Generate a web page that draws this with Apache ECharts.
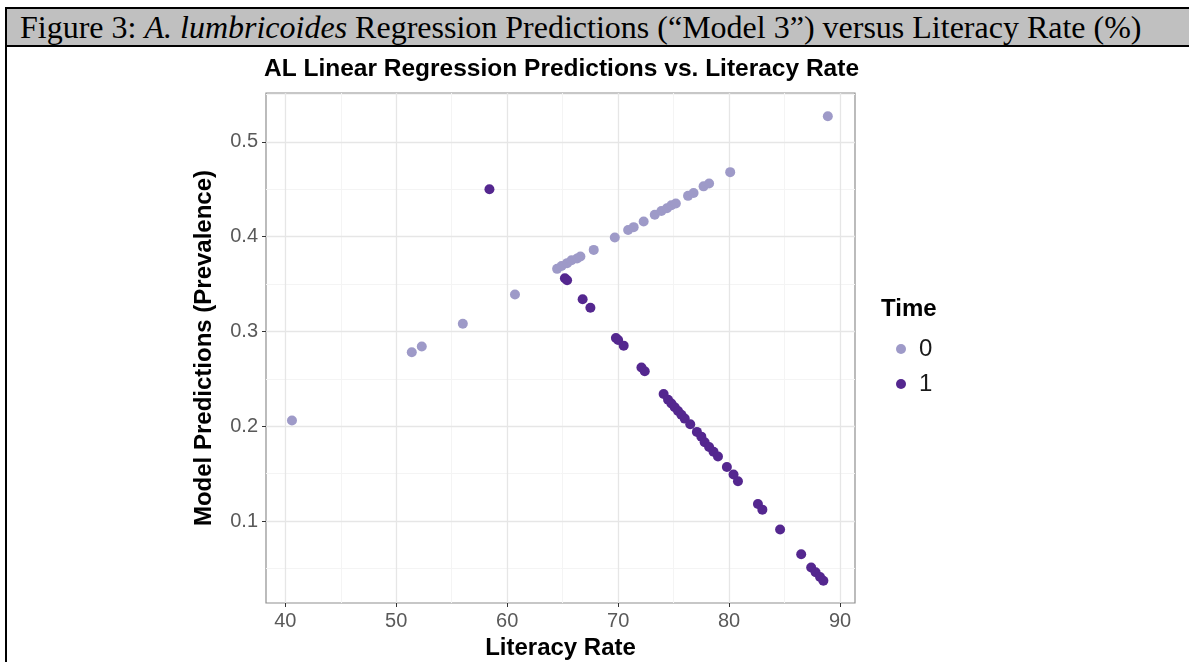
<!DOCTYPE html>
<html>
<head>
<meta charset="utf-8">
<title>AL Linear Regression Predictions vs. Literacy Rate</title>
<script src="https://cdn.jsdelivr.net/npm/echarts@6/dist/echarts.min.js"></script>
<style>
  html, body {
    margin: 0;
    padding: 0;
    background: #fff;
    overflow: hidden;
  }
  .fig-frame {
    position: absolute;
    left: 5px;
    top: 7px;
    width: 1200px;
    height: 700px;
    border-left: 2px solid #000;
    border-top: 2px solid #000;
  }
  .fig-caption {
    position: absolute;
    left: 5px;
    top: 7px;
    width: 1200px;
    height: 36px;
    background: #c0c0c0;
    border-top: 2px solid #000;
    border-left: 2px solid #000;
    border-bottom: 2px solid #000;
    font-family: "Liberation Serif", "DejaVu Serif", serif;
    font-size: 32px;
    line-height: 36px;
    color: #000;
    padding-left: 13px;
    white-space: nowrap;
    box-sizing: content-box;
  }
  #chart {
    position: absolute;
    left: 0;
    top: 0;
    width: 1189px;
    height: 662px;
  }
</style>
</head>
<body>
<div id="chart"></div>
<div class="fig-frame"></div>
<div class="fig-caption">Figure 3: <i>A. lumbricoides</i> Regression Predictions (“Model 3”) versus Literacy Rate (%)</div>
<script>
  // Time = 0
  var time0X = [40.6, 51.4, 52.3, 56.0, 60.7, 64.5, 64.9, 65.4, 65.8, 66.3, 66.6, 67.8, 69.7, 70.9, 71.4,
    72.3, 73.3, 73.9, 74.4, 74.8, 75.2, 76.3, 76.8, 77.7, 78.2, 80.1, 88.9];
  var time0Y = [0.206, 0.278, 0.284, 0.308, 0.339, 0.366, 0.369, 0.372, 0.375, 0.377, 0.379, 0.386, 0.399, 0.407, 0.410,
    0.416, 0.423, 0.427, 0.430, 0.433, 0.435, 0.443, 0.446, 0.453, 0.456, 0.468, 0.527];
  // Time = 1
  var time1X = [58.4, 65.2, 65.4, 66.8, 67.5, 69.8, 70.0, 70.5, 72.1, 72.4, 74.1, 74.5, 74.8, 75.1, 75.4,
    75.7, 76.0, 76.5, 77.1, 77.5, 77.8, 78.2, 78.6, 79.0, 79.8, 80.4, 80.8, 82.6, 83.0, 84.6,
    86.5, 87.4, 87.8, 88.2, 88.5];
  var time1Y = [0.450, 0.356, 0.354, 0.334, 0.325, 0.293, 0.291, 0.285, 0.262, 0.258, 0.234, 0.228, 0.224, 0.220, 0.216,
    0.212, 0.208, 0.202, 0.194, 0.189, 0.183, 0.178, 0.173, 0.168, 0.157, 0.149, 0.142, 0.118, 0.112, 0.091,
    0.065, 0.051, 0.046, 0.041, 0.037];

  var timeNames = ['0', '1'];
  var xMajor = [40, 50, 60, 70, 80, 90];
  var xMinor = [45, 55, 65, 75, 85];
  var yMajor = [0.1, 0.2, 0.3, 0.4, 0.5];
  var yMinor = [0.05, 0.15, 0.25, 0.35, 0.45, 0.55];
  var xRange = [38.26, 91.35];
  var yRange = [0.0135, 0.5515];

  function zip(xs, ys) {
    var _out = [];
    xs.forEach(function (x, i) {
      _out.push([x, ys[i]]);
    });
    return _out;
  }

  var baseFont = 'Liberation Sans, Arial, sans-serif';
  var labelFont = {color: '#595959', fontSize: 20, fontFamily: baseFont};

  function minorAxis(values, range, pos) {
    return {
      type: 'value',
      gridIndex: 0,
      position: pos,
      min: range[0],
      max: range[1],
      axisLine: {show: false},
      axisLabel: {show: false, customValues: values},
      axisTick: {show: false, customValues: values},
      splitLine: {show: true, lineStyle: {color: '#f4f4f4', width: 1}},
      z: 0
    };
  }

  var option = {
    animation: false,
    grid: {
      left: 266,
      right: 334,
      top: 93,
      bottom: 59,
      show: true,
      borderColor: '#8f8f8f',
      borderWidth: 1.2,
      backgroundColor: 'transparent',
      containLabel: false,
      outerBoundsMode: 'none'
    },
    graphic: [
      {
        type: 'text',
        left: 264,
        top: 57,
        style: {
          text: 'AL Linear Regression Predictions vs. Literacy Rate',
          fontSize: 24.5,
          fontWeight: 'bold',
          fontFamily: baseFont,
          fill: '#000'
        }
      },
      {
        type: 'text',
        left: 881,
        top: 297,
        style: {
          text: 'Time',
          fontSize: 24,
          fontWeight: 'bold',
          fontFamily: baseFont,
          fill: '#000'
        }
      }
    ],
    legend: {
      orient: 'vertical',
      left: 891,
      top: 332,
      itemWidth: 10,
      itemHeight: 10,
      itemGap: 11,
      icon: 'circle',
      data: timeNames,
      textStyle: {
        color: '#1a1a1a',
        fontSize: 24,
        fontFamily: baseFont,
        padding: [0, 0, 0, 8]
      }
    },
    xAxis: [
      {
        type: 'value',
        gridIndex: 0,
        position: 'bottom',
        min: xRange[0],
        max: xRange[1],
        name: 'Literacy Rate',
        nameLocation: 'middle',
        nameGap: 32,
        nameTextStyle: {fontSize: 24, fontWeight: 'bold', color: '#000', fontFamily: baseFont},
        axisLine: {show: false},
        axisTick: {show: true, length: 4, inside: false, customValues: xMajor, lineStyle: {color: '#333'}},
        axisLabel: Object.assign({customValues: xMajor, margin: 8}, labelFont),
        splitLine: {show: true, lineStyle: {color: '#e6e6e6', width: 1.3}},
        z: 2
      },
      minorAxis(xMinor, xRange, 'bottom')
    ],
    yAxis: [
      {
        type: 'value',
        gridIndex: 0,
        position: 'left',
        min: yRange[0],
        max: yRange[1],
        name: 'Model Predictions (Prevalence)',
        nameLocation: 'middle',
        nameGap: 50,
        nameTextStyle: {fontSize: 24, fontWeight: 'bold', color: '#000', fontFamily: baseFont},
        axisLine: {show: false},
        axisTick: {show: true, length: 4, inside: false, customValues: yMajor, lineStyle: {color: '#333'}},
        axisLabel: Object.assign({customValues: yMajor, margin: 8}, labelFont),
        splitLine: {show: true, lineStyle: {color: '#e6e6e6', width: 1.3}},
        z: 2
      },
      minorAxis(yMinor, yRange, 'left')
    ],
    series: [
      {
        name: timeNames[0],
        type: 'scatter',
        xAxisIndex: 0,
        yAxisIndex: 0,
        symbolSize: 10,
        itemStyle: {color: '#9e9ac8', opacity: 1},
        data: zip(time0X, time0Y),
        z: 5
      },
      {
        name: timeNames[1],
        type: 'scatter',
        xAxisIndex: 0,
        yAxisIndex: 0,
        symbolSize: 10,
        itemStyle: {color: '#54278f', opacity: 1},
        data: zip(time1X, time1Y),
        z: 6
      }
    ]
  };

  var chart = echarts.init(document.getElementById('chart'));
  chart.setOption(option);
</script>
</body>
</html>
